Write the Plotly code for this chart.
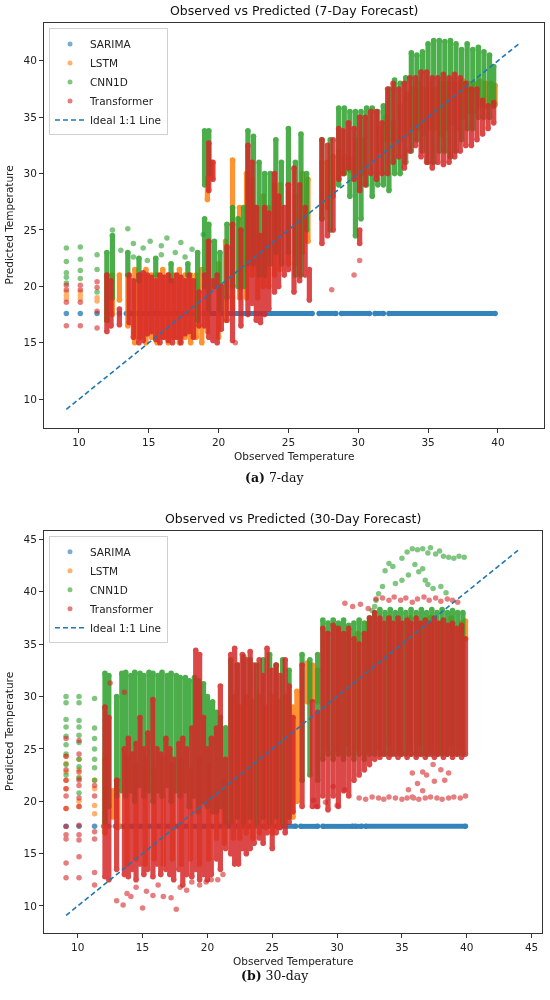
import plotly.graph_objects as go

# colours (matplotlib tab10)
C_SAR = '#1f77b4'
C_LSTM = '#ff7f0e'
C_CNN = '#2ca02c'
C_TR = '#d62728'

MODELS = ['SARIMA', 'LSTM', 'CNN1D', 'Transformer']

# ---------------- 7-day panel ----------------
# SARIMA predicts a flat 17.6 for every observed value
sar7_y = 17.6
sar7_pts = [9.1, 10.1, 11.3, 12.0, 12.4, 12.9]
sar7_runs = [(13.4, 26.7), (27.2, 28.4), (28.8, 30.8), (31.2, 31.8), (32.2, 39.8)]

# sparse points: (observed, [predicted...])
lstm7_pts = [(9.1, [19.5, 19.2, 18.9]), (10.1, [19.5, 19.2, 18.9]), (11.3, [19.0, 18.7])]
cnn7_pts = [(9.1, [23.4, 22.2, 21.2, 20.8, 20.3]), (10.1, [23.5, 22.4, 21.4, 20.7]),
            (11.3, [22.8, 21.5, 19.5]), (13.5, [25.1]), (12.4, [25.0]),
            (13.0, [23.2]), (13.9, [23.8, 22.6]), (14.6, [23.4]), (15.1, [24.0]),
            (15.9, [23.6, 22.8]), (16.3, [24.3]), (16.9, [23.0]), (17.3, [23.9]),
            (17.6, [22.6]), (18.1, [23.3]), (18.9, [24.6]), (14.9, [22.3])]
tr7_pts = [(9.1, [20.1, 19.7, 18.6, 16.5]), (10.1, [20.1, 19.7, 18.6, 16.5]),
           (11.3, [20.4, 19.9, 17.8, 16.3]), (28.1, [19.7]), (29.7, [21.0]),
           (30.1, [22.3]), (21.2, [15.0])]

# dense columns: (observed, lowest predicted, highest predicted)
lstm7_cols = [(12.0, 17.0, 21.0), (12.4, 17.5, 21.0), (12.9, 18.8, 21.0), (13.5, 16.5, 21.0),
              (14.0, 15.0, 21.5), (14.4, 15.5, 21.0), (14.8, 15.0, 21.5), (15.2, 15.5, 21.0),
              (15.6, 15.0, 21.0), (16.0, 15.5, 21.5), (16.4, 15.0, 21.0), (16.8, 15.5, 21.0),
              (17.2, 15.0, 21.5), (17.6, 15.5, 21.0), (18.0, 15.0, 21.0), (18.4, 15.5, 21.0),
              (18.8, 15.0, 21.5), (19.2, 16.0, 24.0), (19.2, 27.7, 29.6), (19.5, 29.6, 31.0),
              (20.0, 15.5, 22.0), (20.5, 17.0, 24.0), (21.0, 18.0, 31.2), (21.5, 19.0, 27.0),
              (22.0, 19.0, 30.0), (22.4, 21.0, 29.5), (22.8, 19.0, 27.0), (23.2, 20.0, 28.0),
              (23.6, 20.0, 27.0), (24.0, 21.0, 29.0), (24.4, 21.5, 29.0), (25.0, 22.0, 29.0),
              (25.5, 22.0, 28.0), (26.0, 23.0, 30.0), (26.4, 24.0, 29.5), (27.4, 26.0, 31.0),
              (27.8, 27.0, 31.0), (28.2, 28.0, 31.5), (28.6, 29.5, 32.0), (29.0, 30.0, 31.5),
              (29.4, 30.3, 31.3), (29.8, 30.0, 33.0), (30.3, 30.0, 33.0), (31.5, 32.0, 34.0),
              (32.0, 33.0, 35.0), (32.5, 33.0, 34.5), (33.0, 33.0, 36.0), (33.5, 33.5, 37.0),
              (33.9, 34.0, 37.5), (34.3, 34.0, 38.0), (34.7, 33.5, 37.5), (35.1, 34.0, 38.0),
              (35.5, 34.0, 37.5), (35.9, 33.5, 38.0), (36.3, 34.0, 38.0), (36.7, 34.5, 38.0),
              (37.1, 34.0, 38.0), (37.5, 35.0, 38.2), (37.9, 35.5, 38.0), (38.3, 35.5, 38.0),
              (38.7, 36.0, 38.2), (39.1, 36.0, 38.0), (39.5, 36.2, 38.0), (39.8, 36.1, 37.8)]
cnn7_cols = [(12.0, 17.0, 23.0), (12.4, 19.0, 24.5), (13.5, 21.0, 23.0), (14.3, 20.5, 22.5),
             (15.5, 21.0, 22.5), (16.6, 20.5, 22.0), (17.8, 21.0, 22.0), (18.5, 17.0, 23.0),
             (19.0, 20.0, 26.0), (19.0, 29.0, 33.8),
             (19.3, 18.0, 25.5), (19.3, 30.0, 33.8), (19.7, 20.0, 24.0), (20.1, 18.0, 23.0),
             (20.6, 19.0, 25.5), (21.0, 20.0, 27.0), (21.4, 20.0, 26.0), (21.8, 20.0, 27.0),
             (22.1, 22.0, 33.8), (22.5, 22.0, 33.3), (22.9, 21.0, 31.0), (23.3, 21.0, 30.0),
             (23.7, 22.0, 30.0), (24.1, 23.0, 33.0), (24.5, 22.0, 31.0), (25.0, 23.0, 34.0),
             (25.5, 21.0, 31.0), (25.9, 21.0, 33.5), (26.3, 25.0, 30.0), (27.4, 26.0, 33.0),
             (28.0, 25.0, 33.0), (28.6, 29.0, 35.8), (29.0, 30.0, 35.8), (29.4, 28.0, 35.5),
             (29.8, 24.5, 35.5), (30.2, 26.0, 35.5), (30.6, 29.0, 35.8), (31.0, 28.0, 35.8),
             (31.4, 29.0, 35.5), (31.8, 29.0, 36.0), (32.2, 28.5, 37.5), (32.6, 30.0, 38.3),
             (33.0, 30.0, 38.0), (33.4, 31.0, 38.5), (33.8, 32.0, 40.7), (34.2, 33.0, 40.5),
             (34.6, 32.0, 40.8), (35.0, 31.0, 41.5), (35.4, 31.0, 41.8), (35.8, 32.0, 41.8),
             (36.2, 32.0, 41.7), (36.6, 31.5, 41.8), (37.0, 32.0, 41.5), (37.4, 33.0, 41.0),
             (37.8, 34.0, 41.5), (38.2, 34.0, 41.0), (38.6, 35.0, 41.2), (39.0, 35.0, 40.8),
             (39.4, 35.0, 40.5), (39.7, 36.0, 39.5)]
tr7_cols = [(12.0, 16.0, 21.0), (12.3, 16.5, 20.5), (12.9, 16.6, 18.0), (13.6, 16.8, 21.0),
            (13.9, 15.5, 20.5), (14.3, 15.0, 21.0), (14.6, 15.2, 21.2), (14.9, 15.8, 21.0),
            (15.2, 16.0, 20.8), (15.5, 15.3, 20.5), (15.8, 15.0, 21.0), (16.1, 15.5, 20.8),
            (16.4, 15.2, 21.0), (16.7, 15.0, 20.5), (17.0, 15.5, 21.0), (17.3, 15.0, 20.8),
            (17.6, 15.8, 20.5), (17.9, 16.0, 21.0), (18.2, 15.5, 20.5), (18.6, 16.5, 19.5),
            (19.0, 16.5, 21.0), (19.3, 15.5, 24.0), (19.3, 28.5, 32.7), (19.6, 15.2, 20.5),
            (19.6, 29.5, 31.0), (19.9, 15.0, 21.0), (20.2, 16.2, 20.0), (20.6, 17.0, 23.5),
            (21.0, 15.2, 25.5), (21.6, 16.5, 25.0), (22.1, 17.5, 32.5), (22.4, 18.5, 31.0),
            (22.7, 17.0, 27.0), (23.0, 16.8, 24.5), (23.3, 17.5, 27.0), (23.6, 18.0, 26.5),
            (24.0, 19.5, 30.0), (24.3, 20.0, 28.0), (24.7, 21.0, 27.0), (25.0, 21.5, 29.0),
            (25.4, 19.5, 30.5), (25.8, 20.5, 29.0), (26.2, 21.0, 27.0), (26.5, 18.8, 21.5),
            (27.4, 23.8, 33.0), (27.8, 24.5, 32.5), (28.2, 25.0, 33.0), (28.6, 29.5, 34.0),
            (28.9, 30.0, 33.8), (29.3, 30.5, 34.5), (29.7, 29.5, 34.0), (30.1, 23.8, 25.0),
            (30.1, 28.5, 35.0), (30.5, 29.0, 35.0), (30.9, 30.0, 35.5), (31.3, 29.5, 35.5),
            (31.7, 30.0, 34.5), (32.1, 30.0, 37.5), (32.5, 31.0, 38.0), (32.9, 31.5, 37.5),
            (33.3, 30.5, 38.0), (33.7, 32.0, 38.5), (34.1, 32.5, 38.5), (34.5, 31.5, 39.0),
            (34.9, 31.0, 39.0), (35.3, 30.5, 38.5), (35.7, 31.0, 38.5), (36.1, 30.8, 38.8),
            (36.5, 31.0, 38.5), (36.9, 31.5, 38.8), (37.3, 32.0, 38.5), (37.7, 32.5, 38.0),
            (38.1, 32.5, 37.5), (38.5, 33.0, 37.5), (38.9, 33.5, 36.5), (39.3, 34.0, 36.0),
            (39.7, 34.5, 36.3)]
ideal7 = [9.1, 41.6]

# ---------------- 30-day panel ----------------
sar30_y = 17.6
sar30_pts = [9.1, 10.1, 11.3, 12.0, 12.4, 12.9, 13.3]
sar30_runs = [(13.6, 26.8), (27.2, 28.5), (28.9, 31.2), (31.4, 31.9), (32.2, 39.9)]

lstm30_pts = [(9.1, [24.3, 23.6, 22.8, 22.0, 21.2, 19.3]), (10.1, [24.0, 23.0, 22.3, 20.0, 19.5]),
              (11.3, [22.0, 21.2, 19.6, 18.8])]
cnn30_pts = [(9.1, [30.0, 29.4, 27.8, 27.1, 26.2, 25.4, 24.5, 23.5, 22.5]),
             (10.1, [30.0, 29.4, 27.7, 27.1, 26.3, 25.6, 24.0, 23.3, 22.2, 20.8]),
             (11.3, [29.8, 27.0, 26.0, 25.0, 24.0, 23.2, 22.0]),
             (32.7, [38.2]), (32.9, [38.6]), (33.0, [39.2]), (33.2, [39.8]), (33.5, [40.5]),
             (33.7, [42.0]), (34.0, [42.7]), (34.3, [42.4]), (34.5, [40.8]), (35.0, [41.1, 43.2]),
             (35.4, [43.8]), (35.5, [41.6]), (35.8, [44.1]), (36.0, [42.6]), (36.2, [44.0]),
             (36.3, [41.9]), (36.6, [44.1, 42.2]), (36.8, [41.1]), (37.0, [43.7, 40.7]),
             (37.2, [44.2]), (37.4, [40.3]), (37.6, [43.6]), (37.9, [43.9]), (38.0, [40.5]),
             (38.2, [43.4]), (38.4, [39.9]), (38.6, [43.3]), (39.0, [43.2]), (39.4, [43.4]),
             (39.8, [43.3])]
tr30_pts = [(9.1, [26.0, 24.3, 23.0, 22.0, 21.2, 20.5, 19.3, 17.6, 16.8, 16.4, 14.1, 12.7]),
            (10.1, [25.8, 24.5, 22.8, 22.0, 21.5, 20.3, 19.5, 17.7, 16.8, 16.3, 14.7, 12.7]),
            (11.3, [21.5, 20.5, 17.1, 16.4, 13.2, 12.0]),
            (12.5, [31.3]), (13.6, [30.4]),
            (13.0, [10.5]), (13.5, [10.1]), (13.8, [11.2]), (14.1, [10.9]), (14.5, [11.8]),
            (15.0, [9.8]), (15.3, [11.4]), (15.8, [11.0]), (16.2, [12.0]), (16.6, [10.9]),
            (17.2, [10.8]), (17.6, [9.7]), (17.9, [11.8]), (18.4, [11.5]), (18.8, [12.3]),
            (19.4, [12.0]), (19.9, [12.3]), (20.3, [12.5]), (20.8, [12.5]), (21.2, [13.0]),
            (28.2, [20.1]), (28.4, [19.5]), (29.1, [19.9]), (29.7, [21.4]), (30.0, [19.6]),
            (30.6, [21.1]), (31.7, [20.3]), (32.2, [20.2]), (32.7, [20.4]), (33.2, [20.3]),
            (33.6, [20.2]), (34.0, [20.4]), (34.5, [20.3]), (35.0, [20.2]), (35.4, [20.3]),
            (35.5, [21.1]), (35.8, [22.7, 20.4]), (35.9, [20.3]), (36.2, [21.7]), (36.3, [20.2]),
            (36.6, [22.8, 21.0]), (36.8, [20.3]), (36.9, [22.5]), (37.2, [20.4]), (37.4, [23.5]),
            (37.5, [21.9]), (37.7, [20.3]), (38.0, [23.0]), (38.1, [20.2]), (38.3, [22.0]),
            (38.6, [22.7, 20.3]), (39.0, [20.4]), (39.5, [20.3]), (39.9, [20.5]),
            (30.6, [38.9]), (31.2, [38.6]), (31.8, [38.8]), (32.4, [38.4]),
            (33.0, [39.3]), (33.5, [39.4]), (34.0, [39.2]), (34.4, [39.5]), (34.9, [39.2]),
            (35.3, [39.4]), (35.8, [39.0]), (36.2, [39.3]), (36.7, [39.5]), (37.1, [39.2]),
            (37.6, [39.4]), (38.0, [39.1]), (38.5, [39.3]), (38.9, [39.2]), (39.3, [39.0])]

lstm30_cols = [(12.1, 17.0, 24.0), (12.7, 18.5, 21.0), (13.1, 17.5, 22.0), (13.8, 14.0, 24.0),
               (14.5, 14.5, 23.5), (15.2, 14.0, 24.0), (15.9, 14.5, 23.0), (16.6, 14.0, 24.0),
               (17.3, 14.5, 23.5), (18.0, 14.0, 24.0), (18.7, 14.5, 23.0), (19.4, 14.0, 24.0),
               (20.1, 14.5, 23.5), (20.7, 16.5, 20.0), (21.3, 16.0, 22.0), (22.0, 16.5, 30.0),
               (22.5, 16.5, 29.0), (23.0, 17.0, 30.0), (23.5, 16.5, 29.5), (24.0, 17.0, 30.0),
               (24.5, 17.5, 29.0), (25.0, 17.0, 30.0), (25.5, 17.5, 29.5), (26.0, 18.0, 30.0),
               (26.6, 18.5, 29.0), (26.9, 20.0, 30.5), (27.7, 29.5, 33.2), (28.1, 29.7, 33.0),
               (28.5, 29.5, 32.5), (29.2, 25.0, 36.0), (30.0, 25.0, 36.5), (30.8, 25.5, 36.0),
               (31.6, 25.0, 36.0), (32.4, 25.0, 37.0), (33.2, 25.0, 37.0), (34.0, 25.5, 37.5),
               (34.8, 25.0, 37.0), (35.6, 25.0, 37.5), (36.4, 25.5, 37.0), (37.2, 25.0, 37.5),
               (38.0, 25.0, 37.0), (38.8, 25.5, 37.5), (39.6, 25.0, 37.0), (39.9, 35.5, 37.2)]
cnn30_cols = [(12.1, 18.0, 32.2), (12.4, 19.5, 32.0), (13.0, 20.5, 30.0), (13.4, 21.0, 32.2),
              (13.7, 20.5, 32.3), (14.1, 21.0, 32.0), (14.4, 20.0, 32.3), (14.8, 21.5, 32.2),
              (15.1, 20.5, 32.0), (15.5, 21.0, 32.3), (15.8, 20.0, 32.2), (16.2, 21.0, 32.0),
              (16.5, 20.5, 32.3), (16.9, 21.5, 32.0), (17.2, 20.0, 32.2), (17.6, 21.0, 32.0),
              (17.9, 20.5, 31.8), (18.3, 21.0, 31.8), (18.6, 19.5, 31.5), (19.0, 20.5, 31.8),
              (19.3, 19.0, 31.5), (19.7, 20.0, 31.2), (20.0, 19.5, 30.0), (20.4, 19.0, 29.5),
              (20.7, 19.0, 28.5), (21.0, 19.5, 28.0), (21.4, 18.0, 27.0), (21.8, 18.0, 33.5),
              (22.3, 18.5, 33.0), (22.8, 18.0, 33.8), (23.3, 18.5, 33.5), (23.8, 18.0, 33.0),
              (24.3, 18.5, 33.5), (24.8, 18.0, 34.0), (25.3, 18.5, 33.0), (25.8, 18.0, 33.5),
              (26.3, 18.5, 32.5), (27.3, 22.0, 34.0), (27.9, 22.5, 33.5), (28.5, 22.0, 34.0),
              (28.9, 24.0, 37.3), (29.3, 24.5, 37.0), (29.7, 24.0, 37.3), (30.1, 24.5, 37.0),
              (30.5, 24.0, 37.3), (30.9, 24.5, 36.8), (31.3, 24.0, 37.0), (31.7, 24.5, 37.3),
              (32.1, 24.0, 37.0), (32.5, 24.5, 37.5), (32.9, 24.5, 38.0), (33.3, 24.5, 38.3),
              (33.7, 24.5, 38.0), (34.1, 24.5, 38.3), (34.5, 24.5, 38.0), (34.9, 24.5, 38.3),
              (35.3, 24.5, 38.0), (35.7, 24.5, 38.3), (36.1, 24.5, 38.0), (36.5, 24.5, 38.3),
              (36.9, 24.5, 38.0), (37.3, 24.5, 38.3), (37.7, 24.5, 38.0), (38.1, 24.5, 38.3),
              (38.5, 24.5, 38.0), (38.9, 24.5, 38.2), (39.3, 24.5, 38.0), (39.7, 24.5, 38.0)]
tr30_cols = [(12.1, 12.8, 29.0), (12.4, 12.5, 28.0), (13.0, 13.5, 22.0), (13.6, 13.0, 25.0),
             (13.9, 12.8, 26.0), (14.2, 13.5, 24.5), (14.5, 12.5, 25.5), (14.8, 14.0, 28.0),
             (15.1, 13.0, 25.0), (15.4, 13.5, 26.5), (15.8, 12.8, 29.7), (16.1, 14.0, 25.0),
             (16.4, 13.0, 24.5), (16.8, 13.5, 26.0), (17.1, 13.0, 25.0), (17.4, 12.5, 24.0),
             (17.8, 13.5, 25.5), (18.1, 12.0, 26.0), (18.4, 13.0, 25.0), (18.8, 12.8, 27.0),
             (19.1, 13.5, 34.4), (19.4, 12.5, 34.0), (19.7, 13.0, 28.0), (20.0, 12.5, 25.0),
             (20.3, 13.0, 26.0), (20.7, 14.5, 27.0), (21.0, 13.5, 31.0), (21.4, 15.5, 24.0),
             (21.8, 15.0, 34.0), (22.1, 14.0, 34.6), (22.4, 14.0, 33.0), (22.7, 15.5, 34.0),
             (23.0, 15.0, 33.5), (23.3, 15.5, 34.3), (23.6, 16.0, 33.0), (24.0, 16.5, 33.5),
             (24.3, 16.0, 32.0), (24.6, 17.0, 34.6), (25.0, 15.5, 32.5), (25.3, 17.0, 33.0),
             (25.6, 17.5, 32.0), (26.0, 17.0, 33.5), (26.3, 18.0, 31.0), (26.6, 19.0, 28.0),
             (27.3, 19.5, 33.0), (28.1, 19.5, 29.5), (28.5, 19.5, 28.5), (28.9, 20.5, 36.5),
             (29.3, 19.2, 36.0), (29.7, 20.5, 36.8), (30.1, 19.5, 36.5), (30.5, 21.0, 36.0),
             (30.9, 20.5, 36.5), (31.3, 22.0, 35.5), (31.7, 22.5, 35.0), (32.1, 23.0, 36.0),
             (32.5, 23.5, 37.5), (32.9, 24.0, 38.0), (33.3, 24.2, 37.5), (33.6, 24.5, 37.0),
             (34.0, 24.2, 37.5), (34.3, 24.5, 37.0), (34.7, 24.2, 37.5), (35.0, 24.5, 37.0),
             (35.4, 24.2, 37.3), (35.7, 24.5, 37.0), (36.1, 24.2, 37.5), (36.4, 24.5, 37.0),
             (36.8, 24.2, 37.3), (37.1, 24.5, 37.0), (37.5, 24.2, 37.5), (37.8, 24.5, 37.0),
             (38.2, 24.2, 37.3), (38.5, 24.5, 36.8), (38.9, 24.2, 37.0), (39.2, 24.5, 36.5),
             (39.6, 24.2, 36.8), (39.9, 24.5, 35.5)]
ideal30 = [9.1, 44.0]


def cols_xy(cols):
    xs, ys = [], []
    for x, lo, hi in cols:
        xs += [x, x, None]
        ys += [lo, hi, None]
    return xs, ys


def pts_xy(pts):
    xs, ys = [], []
    for x, yl in pts:
        for y in yl:
            xs.append(x)
            ys.append(y)
    return xs, ys


def runs_xy(runs, y):
    xs, ys = [], []
    for a, b in runs:
        xs += [a, b, None]
        ys += [y, y, None]
    return xs, ys


fig = go.Figure()


def add_panel(fig, ax, sar_y, sar_pts, sar_runs, series, ideal, legend):
    xa, ya = 'x' + ax, 'y' + ax
    # SARIMA (runs of dots drawn as a thick line with round dot ends)
    xs, ys = runs_xy(sar_runs, sar_y)
    fig.add_trace(go.Scatter(x=xs, y=ys, mode='lines+markers', xaxis=xa, yaxis=ya,
                             line=dict(color=C_SAR, width=5),
                             marker=dict(color=C_SAR, size=5.5, line=dict(width=0)),
                             opacity=0.9, showlegend=False))
    fig.add_trace(go.Scatter(x=sar_pts, y=[sar_y] * len(sar_pts), mode='markers', xaxis=xa, yaxis=ya,
                             marker=dict(color=C_SAR, size=5.5, line=dict(width=0)), opacity=0.75,
                             showlegend=False))
    # the neural models (each observed value gives a column of predictions)
    for color, cols, pts in series:
        xs, ys = cols_xy(cols)
        fig.add_trace(go.Scatter(x=xs, y=ys, mode='lines+markers', xaxis=xa, yaxis=ya,
                                 line=dict(color=color, width=5.2),
                                 marker=dict(color=color, size=5.6, line=dict(width=0)),
                                 opacity=0.85, showlegend=False))
        xs, ys = pts_xy(pts)
        fig.add_trace(go.Scatter(x=xs, y=ys, mode='markers', xaxis=xa, yaxis=ya,
                                 marker=dict(color=color, size=5.5, line=dict(width=0)), opacity=0.6,
                                 showlegend=False))
    # ideal line
    fig.add_trace(go.Scatter(x=ideal, y=ideal, mode='lines', xaxis=xa, yaxis=ya,
                             line=dict(color=C_SAR, width=1.6, dash='5px,3px'), showlegend=False))
    # legend entries
    for name, color in zip(MODELS, [C_SAR, C_LSTM, C_CNN, C_TR]):
        fig.add_trace(go.Scatter(x=[None], y=[None], mode='markers', name=name, xaxis=xa, yaxis=ya,
                                 marker=dict(color=color, size=5, opacity=0.6), legend=legend))
    fig.add_trace(go.Scatter(x=[None], y=[None], mode='lines', name='Ideal 1:1 Line', xaxis=xa, yaxis=ya,
                             line=dict(color=C_SAR, width=1.6, dash='5px,3px'), legend=legend))


add_panel(fig, '', sar7_y, sar7_pts, sar7_runs,
          [(C_LSTM, lstm7_cols, lstm7_pts), (C_CNN, cnn7_cols, cnn7_pts), (C_TR, tr7_cols, tr7_pts)],
          ideal7, 'legend')
add_panel(fig, '2', sar30_y, sar30_pts, sar30_runs,
          [(C_LSTM, lstm30_cols, lstm30_pts), (C_CNN, cnn30_cols, cnn30_pts), (C_TR, tr30_cols, tr30_pts)],
          ideal30, 'legend2')

FONT = 'DejaVu Sans'
axis_style = dict(showgrid=False, zeroline=False, showline=True, mirror=True, linecolor='#333',
                  linewidth=1, ticks='outside', ticklen=4, tickcolor='#333',
                  tickfont=dict(family=FONT, size=10.5, color='#222'))

legend_style = dict(x=0.01, xanchor='left', yanchor='top', bgcolor='rgba(255,255,255,0.85)',
                    bordercolor='#d0d0d0', borderwidth=1, font=dict(family=FONT, size=10.5, color='#222'),
                    tracegroupgap=0)

fig.update_layout(
    width=550, height=1000,
    margin=dict(l=44, r=6, t=23, b=67),
    paper_bgcolor='white', plot_bgcolor='white',
    xaxis=dict(domain=[0, 1], range=[7.5, 43.3], tickvals=[10, 15, 20, 25, 30, 35, 40], anchor='y', **axis_style),
    yaxis=dict(domain=[0.555, 1], range=[7.45, 43.35], tickvals=[10, 15, 20, 25, 30, 35, 40], anchor='x', **axis_style),
    xaxis2=dict(domain=[0, 0.996], range=[7.4, 45.8], tickvals=[10, 15, 20, 25, 30, 35, 40, 45], anchor='y2', **axis_style),
    yaxis2=dict(domain=[0, 0.4418], range=[7.42, 45.8], tickvals=[10, 15, 20, 25, 30, 35, 40, 45], anchor='x2', **axis_style),
    legend=dict(y=0.994, **legend_style),
    legend2=dict(y=0.436, **legend_style),
)

txt = dict(family=FONT, size=10.5, color='#222')
serif = dict(family='DejaVu Serif', size=12.5, color='#111')
notes = [
    dict(text='Observed vs Predicted (7-Day Forecast)', x=0.5, y=1.0, xref='x domain', yref='paper',
         yanchor='bottom', yshift=3, font=dict(family=FONT, size=12.5, color='#111')),
    dict(text='Observed vs Predicted (30-Day Forecast)', x=0.5, y=1.0, xref='x2 domain', yref='y2 domain',
         yanchor='bottom', yshift=3, font=dict(family=FONT, size=12.5, color='#111')),
    dict(text='Observed Temperature', x=0.5, y=0.555, xref='x domain', yref='paper', yanchor='top',
         yshift=-20, font=txt),
    dict(text='Observed Temperature', x=0.5, y=0, xref='x2 domain', yref='paper', yanchor='top',
         yshift=-20, font=txt),
    dict(text='Predicted Temperature', x=0, y=0.5, xref='paper', yref='y domain', xanchor='right',
         xshift=-27, textangle=-90, font=txt),
    dict(text='Predicted Temperature', x=0, y=0.5, xref='paper', yref='y2 domain', xanchor='right',
         xshift=-27, textangle=-90, font=txt),
    dict(text='<b>(a)</b> 7-day', x=275, y=477, xref='paper', yref='paper', font=serif),
    dict(text='<b>(b)</b> 30-day', x=275, y=985, xref='paper', yref='paper', font=serif),
]
# captions are placed in window pixels -> convert to paper coordinates
for a in notes:
    if a['text'].startswith('<b>'):
        a['x'] = (a['x'] - 44) / 500
        a['y'] = (933 - a['y']) / 910
    a['showarrow'] = False
fig.update_layout(annotations=notes)

# drop the browser's default 8px page margin so the figure fills the window
fig.write_html('out.html', config={'displayModeBar': False},
               post_script="document.body.style.margin='0';")
